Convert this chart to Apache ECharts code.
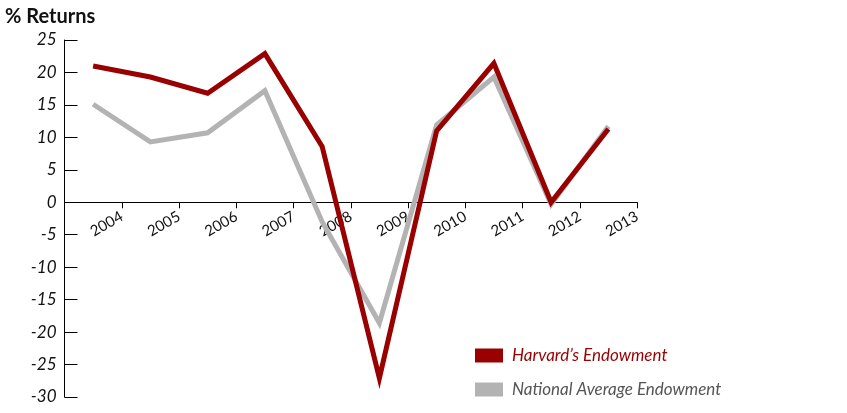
<!DOCTYPE html>
<html>
<head>
<meta charset="utf-8">
<script src="https://cdn.jsdelivr.net/npm/echarts@6/dist/echarts.min.js"></script>
<style>
html,body{margin:0;padding:0;background:#fff;}
#c{width:847px;height:413px;}
</style>
</head>
<body>
<div id="c"></div>
<script>
var categories = ['FY2004','FY2005','FY2006','FY2007','FY2008','FY2009','FY2010','FY2011','FY2012','FY2013'];
var tickYears = ['2004','2005','2006','2007','2008','2009','2010','2011','2012','2013'];
var harvard = [21.0, 19.3, 16.8, 22.9, 8.6, -27.1, 11.0, 21.4, 0.0, 11.3];
var national = [15.1, 9.3, 10.7, 17.2, -3.0, -18.6, 11.9, 19.3, -0.3, 11.7];
var seriesNames = ["Harvard\u2019s Endowment", 'National Average Endowment'];
var colors = ['#990000', '#b3b3b3'];
var yMin = -30, yMax = 25, yStep = 5;

var gridLeft = 64.5, gridRight = 210, gridTop = 40, gridBottom = 16;
var plotH = 413 - gridTop - gridBottom;
var zeroH = plotH * (yMax - 0) / (yMax - yMin); // height from top to zero line

var chart = echarts.init(document.getElementById('c'), null, {renderer: 'canvas'});
var fontFam = 'Lato, "Noto Sans", sans-serif';
chart.setOption({
  animation: false,
  backgroundColor: '#fff',
  title: {
    text: '% Returns', left: 0, top: 2,
    textStyle: {fontFamily: fontFam, fontSize: 20, fontWeight: 'bold', color: '#111'}
  },
  grid: [
    {left: gridLeft, right: gridRight, top: gridTop, bottom: gridBottom, containLabel: false, outerBoundsMode: 'none'},
    {left: gridLeft, right: gridRight, top: gridTop, height: zeroH, containLabel: false, outerBoundsMode: 'none'}
  ],
  legend: {
    orient: 'vertical', left: 470, top: 342, itemGap: 17,
    itemWidth: 28, itemHeight: 14, icon: 'rect',
    data: [
      {name: seriesNames[0], textStyle: {color: '#990000'}},
      {name: seriesNames[1], textStyle: {color: '#555'}}
    ],
    textStyle: {fontFamily: fontFam, fontSize: 17, fontStyle: 'italic', padding: [0,0,0,4]}
  },
  xAxis: [
    {
      gridIndex: 0, type: 'category', data: categories, boundaryGap: true, position: 'bottom',
      axisLine: {show: false, onZero: false}, axisTick: {show: false}, axisLabel: {show: false}, splitLine: {show: false}
    },
    {
      gridIndex: 1, type: 'value', min: 0, max: 10, interval: 1, position: 'bottom',
      axisLine: {show: true, onZero: false, lineStyle: {color: '#000', width: 1}},
      axisTick: {show: true, length: 6, inside: false, lineStyle: {color: '#000'}},
      splitLine: {show: false},
      axisLabel: {
        show: true, rotate: 30, margin: 13, color: '#111',
        fontFamily: fontFam, fontSize: 15,
        showMinLabel: false,
        formatter: function (v) { return v >= 1 ? tickYears[v - 1] : ''; }
      }
    }
  ],
  yAxis: [
    {
      gridIndex: 0, type: 'value', min: yMin, max: yMax, interval: yStep,
      axisLine: {show: true, onZero: false, lineStyle: {color: '#000', width: 1}},
      axisTick: {show: true, inside: true, length: 13, lineStyle: {color: '#000'}},
      splitLine: {show: false},
      axisLabel: {margin: 8, color: '#111', fontFamily: fontFam, fontSize: 17, fontStyle: 'italic'}
    },
    {
      gridIndex: 1, type: 'value', min: 0, max: yMax, show: false
    }
  ],
  series: [
    {
      name: seriesNames[1], type: 'line', data: national, xAxisIndex: 0, yAxisIndex: 0,
      symbol: 'none', lineStyle: {color: colors[1], width: 5, join: 'miter'}, itemStyle: {color: colors[1]}, z: 2
    },
    {
      name: seriesNames[0], type: 'line', data: harvard, xAxisIndex: 0, yAxisIndex: 0,
      symbol: 'none', lineStyle: {color: colors[0], width: 5, join: 'miter'}, itemStyle: {color: colors[0]}, z: 3
    }
  ]
});
</script>
</body>
</html>
